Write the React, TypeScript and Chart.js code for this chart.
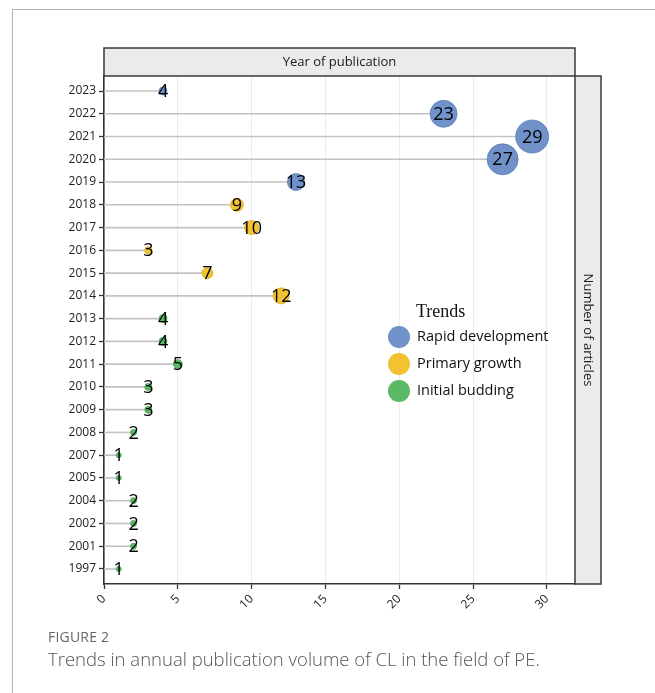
import React, { useEffect, useRef } from 'react';
import { Chart, registerables } from 'chart.js';

Chart.register(...registerables);

const years = ['2023', '2022', '2021', '2020', '2019', '2018', '2017', '2016', '2015', '2014', '2013', '2012', '2011', '2010', '2009', '2008', '2007', '2005', '2004', '2002', '2001', '1997'];
const articles = [4, 23, 29, 27, 13, 9, 10, 3, 7, 12, 4, 4, 5, 3, 3, 2, 1, 1, 2, 2, 2, 1];
const trendOfYear = [0, 0, 0, 0, 0, 1, 1, 1, 1, 1, 2, 2, 2, 2, 2, 2, 2, 2, 2, 2, 2, 2];
const trendNames = ['Rapid development', 'Primary growth', 'Initial budding'];
const trendColors = ['#7092c9', '#f2c232', '#5cb865'];
const trendBorders = ['#5a7db8', '#d9a91e', '#46a050'];
const xTicks = [0, 5, 10, 15, 20, 25, 30];
const xMax = 31.9;
const stripTop = 'Year of publication';
const stripRight = 'Number of articles';
const legendTitle = 'Trends';
const figureLabel = 'FIGURE 2';
const figureCaption = 'Trends in annual publication volume of CL in the field of PE.';

const W = 655;
const H = 693;

export default function App() {
  const ref = useRef<HTMLCanvasElement | null>(null);

  useEffect(() => {
    const canvas = ref.current;
    if (!canvas) return;

    const decor = {
      id: 'decor',
      beforeDatasetsDraw(chart: any) {
        const { ctx, scales } = chart;
        const xs = scales.x;
        const ys = scales.y;
        ctx.save();
        ctx.strokeStyle = '#c2c2c2';
        ctx.lineWidth = 1.6;
        articles.forEach((v, i) => {
          const y = ys.getPixelForValue(i);
          ctx.beginPath();
          ctx.moveTo(xs.getPixelForValue(0), y);
          ctx.lineTo(xs.getPixelForValue(v), y);
          ctx.stroke();
        });
        ctx.restore();
      },
      afterDatasetsDraw(chart: any) {
        const { ctx, scales, chartArea } = chart;
        const xs = scales.x;
        const ys = scales.y;
        ctx.save();
        // value labels
        ctx.fillStyle = '#000';
        ctx.font = '500 18px "Open Sans"';
        ctx.textAlign = 'center';
        ctx.textBaseline = 'middle';
        articles.forEach((v, i) => {
          ctx.fillText(String(v), xs.getPixelForValue(v), ys.getPixelForValue(i) + 1);
        });

        // top strip
        const stTop = 48;
        ctx.fillStyle = '#ebebeb';
        ctx.fillRect(chartArea.left, stTop, chartArea.right - chartArea.left, chartArea.top - stTop);
        ctx.strokeStyle = '#3a3a3a';
        ctx.lineWidth = 1.5;
        ctx.strokeRect(chartArea.left, stTop, chartArea.right - chartArea.left, chartArea.top - stTop);
        ctx.fillStyle = '#1a1a1a';
        ctx.font = '13px "Open Sans"';
        ctx.fillText(stripTop, (chartArea.left + chartArea.right) / 2, (stTop + chartArea.top) / 2 + 0.5);

        // right strip
        const srW = 26;
        ctx.fillStyle = '#ebebeb';
        ctx.fillRect(chartArea.right, chartArea.top, srW, chartArea.bottom - chartArea.top);
        ctx.strokeRect(chartArea.right, chartArea.top, srW, chartArea.bottom - chartArea.top);
        ctx.save();
        ctx.translate(chartArea.right + srW / 2, (chartArea.top + chartArea.bottom) / 2);
        ctx.rotate(Math.PI / 2);
        ctx.fillStyle = '#1a1a1a';
        ctx.fillText(stripRight, 0, 0);
        ctx.restore();

        // legend
        ctx.textAlign = 'left';
        ctx.fillStyle = '#111';
        ctx.font = '18px "Liberation Serif"';
        ctx.fillText(legendTitle, 416, 312);
        ctx.font = '14.5px "Open Sans"';
        trendNames.forEach((name, k) => {
          const cy = 337 + k * 27;
          ctx.beginPath();
          ctx.arc(399, cy, 11, 0, Math.PI * 2);
          ctx.fillStyle = trendColors[k];
          ctx.fill();
          ctx.fillStyle = '#111';
          ctx.fillText(name, 417, cy);
        });
        ctx.restore();
      },
    };

    const chart = new Chart(canvas, {
      type: 'scatter',
      data: {
        datasets: [
          {
            data: articles.map((v, i) => ({ x: v, y: i })),
            pointRadius: (c: any) => 2 + 0.5 * articles[c.dataIndex],
            pointHoverRadius: (c: any) => 2 + 0.5 * articles[c.dataIndex],
            pointBackgroundColor: (c: any) => trendColors[trendOfYear[c.dataIndex]],
            pointBorderColor: (c: any) => trendBorders[trendOfYear[c.dataIndex]],
            pointBorderWidth: 0.8,
          },
        ],
      },
      options: {
        responsive: false,
        animation: false,
        events: [],
        layout: { padding: { left: 0, right: 80, top: 76, bottom: 0 } },
        plugins: { legend: { display: false }, tooltip: { enabled: false } },
        scales: {
          x: {
            type: 'linear',
            min: 0,
            max: xMax,
            afterBuildTicks: (s: any) => {
              s.ticks = xTicks.map((v) => ({ value: v }));
            },
            afterFit: (s: any) => {
              s.height = H - 584;
            },
            grid: { color: '#ebebeb', lineWidth: 1, tickLength: 5, tickColor: '#333', tickWidth: 1.3 },
            border: { color: '#333', width: 1.6 },
            ticks: {
              minRotation: 45,
              maxRotation: 45,
              color: '#222',
              font: { family: 'Open Sans', size: 12 },
              padding: 3,
            },
          },
          y: {
            type: 'linear',
            reverse: true,
            min: -0.66,
            max: 21.66,
            afterBuildTicks: (s: any) => {
              s.ticks = years.map((_, i) => ({ value: i }));
            },
            afterFit: (s: any) => {
              s.width = 104;
            },
            grid: { drawOnChartArea: false, tickLength: 5, tickColor: '#333', tickWidth: 1.3 },
            border: { color: '#333', width: 1.6 },
            ticks: {
              color: '#222',
              font: { family: 'Open Sans', size: 12 },
              padding: 3,
              autoSkip: false,
              callback: (v: any) => years[v] ?? '',
            },
          },
        },
      },
      plugins: [decor],
    } as any);

    return () => chart.destroy();
  }, []);

  return (
    <div style={{ position: 'fixed', left: 0, top: 0, width: W, height: H, background: '#fff', overflow: 'hidden' }}>
      <div style={{ position: 'absolute', left: 12, top: 9, right: -10, bottom: -10, borderTop: '1px solid #b5b5b5', borderLeft: '1px solid #b5b5b5' }} />
      <canvas ref={ref} width={W} height={H} style={{ position: 'absolute', left: 0, top: 0, width: W, height: H }} />
      <div style={{ position: 'absolute', left: 48, top: 627, fontFamily: '"Open Sans"', fontSize: 14, color: '#666', letterSpacing: 0.2 }}>{figureLabel}</div>
      <div style={{ position: 'absolute', left: 48, top: 646, fontFamily: '"Open Sans"', fontSize: 18.5, color: '#555', fontWeight: 300 }}>{figureCaption}</div>
    </div>
  );
}
